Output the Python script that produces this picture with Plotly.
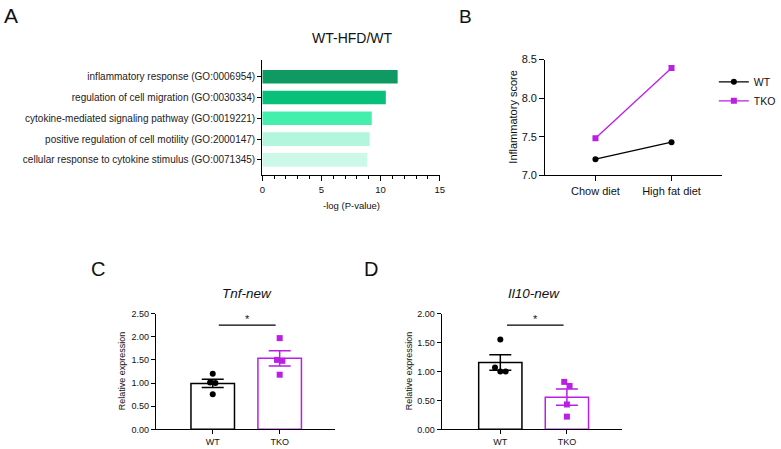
import numpy as np
import plotly.graph_objects as go

W, H = 781, 449
FONT = "Arial, Liberation Sans, sans-serif"

# ---------------- data ----------------
go_terms = [
    "inflammatory response (GO:0006954)",
    "regulation of cell migration (GO:0030334)",
    "cytokine-mediated signaling pathway (GO:0019221)",
    "positive regulation of cell motility (GO:2000147)",
    "cellular response to cytokine stimulus (GO:0071345)",
]
go_neglogp = [11.44, 10.44, 9.25, 9.08, 8.86]
go_colors = ["#0f9a63", "#08c07a", "#44efae", "#b2f7dd", "#ccf8e8"]

diet_labels = ["Chow diet", "High fat diet"]
wt_score = [7.21, 7.43]
tko_score = [7.48, 8.39]

groups = ["WT", "TKO"]
tnf_wt = [1.20, 1.01, 1.00, 0.76]
tnf_tko = [1.97, 1.50, 1.48, 1.18]
il10_wt = [1.55, 1.07, 1.00, 1.00]
il10_tko = [0.82, 0.75, 0.43, 0.22]

WT_COLOR = "#000000"
TKO_COLOR = "#bb1ee6"

# ---------------- helpers ----------------
def px_x(p):
    return p / W

def px_y(p):
    return 1 - p / H

def spread(vals, thr=0.1, step=0.08):
    """beeswarm-like horizontal offsets for close values"""
    order = sorted(range(len(vals)), key=lambda i: -vals[i])
    offs = [0.0] * len(vals)
    clusters = []
    for i in order:
        if clusters and abs(vals[clusters[-1][-1]] - vals[i]) < thr:
            clusters[-1].append(i)
        else:
            clusters.append([i])
    for c in clusters:
        n = len(c)
        for k, i in enumerate(c):
            offs[i] = (k - (n - 1) / 2) * step
    return offs

def mean_sem(v):
    a = np.array(v, float)
    return a.mean(), a.std(ddof=1) / np.sqrt(len(a))

fig = go.Figure()

# ---------------- Panel A ----------------
fig.add_trace(go.Bar(
    x=go_neglogp, y=go_terms, orientation="h",
    marker=dict(color=go_colors, line=dict(width=0)),
    width=0.66, xaxis="x", yaxis="y", showlegend=False,
))

# ---------------- Panel B ----------------
fig.add_trace(go.Scatter(
    x=diet_labels, y=wt_score, mode="lines+markers", name="WT",
    line=dict(color=WT_COLOR, width=1.3),
    marker=dict(symbol="circle", size=6, color=WT_COLOR),
    xaxis="x2", yaxis="y2",
))
fig.add_trace(go.Scatter(
    x=diet_labels, y=tko_score, mode="lines+markers", name="TKO",
    line=dict(color=TKO_COLOR, width=1.3),
    marker=dict(symbol="square", size=6, color=TKO_COLOR),
    xaxis="x2", yaxis="y2",
))

# ---------------- Panels C, D ----------------
def add_dot_bar(wt, tko, xa, ya):
    for gi, (vals, col, sym) in enumerate([(wt, WT_COLOR, "circle"),
                                            (tko, TKO_COLOR, "square")]):
        m, s = mean_sem(vals)
        fig.add_trace(go.Bar(
            x=[gi], y=[m], width=0.65,
            marker=dict(color="white", line=dict(color=col, width=1.5)),
            error_y=dict(type="data", array=[s], color=col, thickness=1.5, width=11),
            xaxis=xa, yaxis=ya, showlegend=False,
        ))
        offs = spread(vals)
        fig.add_trace(go.Scatter(
            x=[gi + o for o in offs], y=vals, mode="markers",
            marker=dict(symbol=sym, size=6, color=col),
            xaxis=xa, yaxis=ya, showlegend=False, cliponaxis=False,
        ))

add_dot_bar(tnf_wt, tnf_tko, "x3", "y3")
add_dot_bar(il10_wt, il10_tko, "x4", "y4")

# ---------------- axes ----------------
axcommon = dict(showline=True, linecolor="#000", linewidth=1.2, ticks="outside",
                tickcolor="#000", tickwidth=1.2, showgrid=False, zeroline=False,
                fixedrange=True)

layout = dict(
    width=W, height=H, autosize=False,
    margin=dict(l=0, r=0, t=0, b=0),
    paper_bgcolor="white", plot_bgcolor="white",
    font=dict(family=FONT, color="#111"),
    barmode="overlay",
    # A
    xaxis=dict(axcommon, domain=[px_x(263), px_x(443)], anchor="y",
               range=[0, 15], tickvals=[0, 5, 10, 15], ticklen=5,
               tickfont=dict(size=9.5),
               minor=dict(dtick=1, ticks="outside", ticklen=3, tickcolor="#000", tickwidth=1)),
    yaxis=dict(axcommon, domain=[px_y(174), px_y(55)], anchor="x",
               type="category", categoryorder="array", categoryarray=go_terms,
               range=[4.75, -0.83], ticklen=4, tickfont=dict(size=10, color="#222")),
    # B
    xaxis2=dict(axcommon, domain=[px_x(550), px_x(729)], anchor="y2",
                type="category", range=[-0.66, 1.66], ticklen=5,
                tickfont=dict(size=11)),
    yaxis2=dict(axcommon, domain=[px_y(174), px_y(55)], anchor="x2",
                range=[7.0, 8.5], tickvals=[7.0, 7.5, 8.0, 8.5], tickformat=".1f",
                ticklen=5, tickfont=dict(size=11)),
    # C
    xaxis3=dict(axcommon, domain=[px_x(155), px_x(337)], anchor="y3",
                range=[-0.85, 1.83], tickvals=[0, 1], ticktext=groups, ticklen=4,
                tickfont=dict(size=9)),
    yaxis3=dict(axcommon, domain=[px_y(435), px_y(316)], anchor="x3",
                range=[0, 2.5], tickvals=[0, 0.5, 1.0, 1.5, 2.0, 2.5], tickformat=".2f",
                ticklen=4, tickfont=dict(size=9)),
    # D
    xaxis4=dict(axcommon, domain=[px_x(445), px_x(628)], anchor="y4",
                range=[-0.88, 1.83], tickvals=[0, 1], ticktext=groups, ticklen=4,
                tickfont=dict(size=9)),
    yaxis4=dict(axcommon, domain=[px_y(435), px_y(316)], anchor="x4",
                range=[0, 2.0], tickvals=[0, 0.5, 1.0, 1.5, 2.0], tickformat=".2f",
                ticklen=4, tickfont=dict(size=9)),
    legend=dict(x=px_x(721), y=px_y(63), xanchor="left", yanchor="top",
                font=dict(size=10.5), itemwidth=30, bgcolor="rgba(0,0,0,0)",
                tracegroupgap=0),
)
fig.update_layout(layout)

# ---------------- annotations ----------------
def ann(text, x, y, size, **kw):
    fig.add_annotation(text=text, x=px_x(x), y=px_y(y), xref="paper", yref="paper",
                       showarrow=False, font=dict(size=size, family=FONT, color="#111"),
                       xanchor=kw.pop("xanchor", "center"), yanchor=kw.pop("yanchor", "middle"),
                       **kw)

ann("A", 8, 10, 21)
ann("B", 469, 11, 19)
ann("C", 96, 270, 20)
ann("D", 373, 270, 20)

ann("WT-HFD/WT", 354, 33, 14)
ann("-log (P-value)", 353, 205, 9.5)
ann("Inflammatory score", 517, 114, 11, textangle=-90)
ann("<i>Tnf-new</i>", 247, 295, 13.5)
ann("<i>Il10-new</i>", 539, 295, 13.5)
ann("Relative expression", 121, 375, 9, textangle=-90)
ann("Relative expression", 412, 375, 9, textangle=-90)

# significance bars
sig_c_y = 2.25
sig_d_y = 1.80
for xa, ya, y0, x0, x1 in [("x3", "y3", sig_c_y, 0.09, 0.94), ("x4", "y4", sig_d_y, 0.10, 0.95)]:
    fig.add_shape(type="line", xref=xa, yref=ya, x0=x0, x1=x1, y0=y0, y1=y0,
                  line=dict(color="#000", width=1.2))
    fig.add_annotation(text="*", xref=xa, yref=ya, x=(x0 + x1) / 2, y=y0,
                       yanchor="bottom", showarrow=False, yshift=-2,
                       font=dict(size=11, family=FONT, color="#111"))

fig.write_html(
    "out.html",
    config={"displayModeBar": False},
    post_script="document.body.style.margin='0';document.body.style.overflow='hidden';",
)
